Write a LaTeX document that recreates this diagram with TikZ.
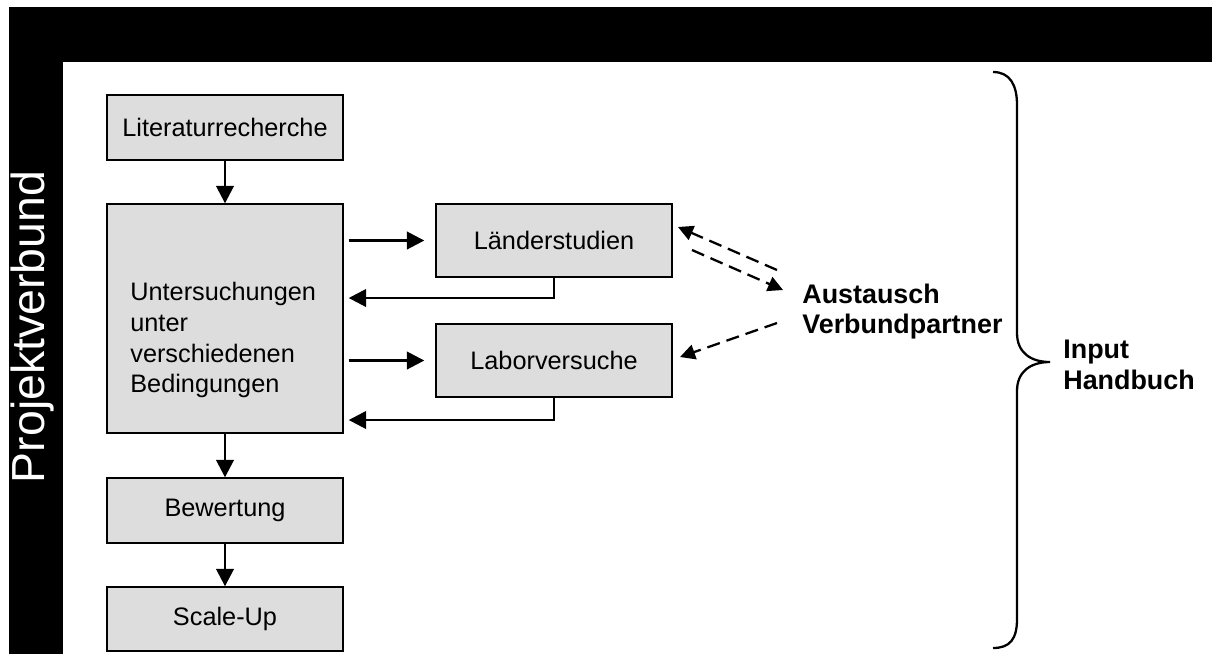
\documentclass[tikz,border=0pt]{standalone}
\usepackage{fontspec}
\setmainfont{Liberation Sans}
\usetikzlibrary{arrows.meta}
\definecolor{boxgray}{RGB}{221,221,221}

\begin{document}
\begin{tikzpicture}[x=0.02cm, y=-0.02cm,
  every node/.style={font=\fontsize{14.4}{17.6}\selectfont},
  box/.style={draw, line width=0.8pt, fill=boxgray, minimum width=4.72cm, inner sep=0pt},
  arr/.style={-{Triangle[length=0.35cm, width=0.35cm]}, line width=1.5pt},
  dsh/.style={-{Triangle[length=0.3cm, width=0.3cm]}, line width=1.3pt, dash pattern=on 7.5pt off 4pt},
  lbl/.style={font=\fontsize{15.3}{17.6}\selectfont\bfseries, align=left, inner sep=0pt, anchor=west}]
  \useasboundingbox (0,0) rectangle (1212,654);
  \fill[white] (0,0) rectangle (1212,654);
  \fill[black] (9,7) rectangle (1212,654);
  \fill[white] (63,62) rectangle (1212,654);
  \node[white, rotate=90, inner sep=0pt, font=\fontsize{26.4}{30}\selectfont] (proj) at (33,327) {Projektverbund};
  \node[box, minimum height=1.3cm] (lit) at (225,127.5) {Literaturrecherche};
  \node[box, minimum height=4.58cm] (unt) at (225,318.5) {};
  \node[align=left, inner sep=0pt, anchor=west] (untxt) at (130,340)
    {Untersuchungen\\unter\\verschiedenen\\Bedingungen};
  \node[box, minimum height=1.3cm] (bew) at (225,510.5) {Bewertung};
  \node[box, minimum height=1.28cm] (scl) at (225,619) {Scale-Up};
  \node[box, minimum height=1.46cm] (laend) at (554,240.5) {Länderstudien};
  \node[box, minimum height=1.46cm] (lab) at (554,360.5) {Laborversuche};
  \node[lbl] (aus) at (802,311.5) {Austausch\\Verbundpartner};
  \node[lbl] (inp) at (1063,364.5) {Input\\Handbuch};
  \draw[arr] (lit) -- (unt);
  \draw[arr] (unt) -- (bew);
  \draw[arr] (bew) -- (scl);
  \draw[arr, shorten <=0.1cm, shorten >=0.22cm] (unt.east |- laend.west) -- (laend.west);
  \draw[arr, shorten <=0.1cm, shorten >=0.22cm] (unt.east |- lab.west) -- (lab.west);
  \draw[arr, shorten >=0.1cm] (laend.south) |- (unt.east |- 0,298);
  \draw[arr, shorten >=0.1cm] (lab.south) |- (unt.east |- 0,420);
  \coordinate (d1a) at (777,270); \coordinate (d1b) at (678,227);
  \coordinate (d2a) at (692,250); \coordinate (d2b) at (783,290);
  \coordinate (d3a) at (777,323); \coordinate (d3b) at (680,357);
  \draw[dsh] (d1a) -- (d1b);
  \draw[dsh] (d2a) -- (d2b);
  \draw[dsh] (d3a) -- (d3b);
  \draw[line width=1.3pt] (993,72) .. controls (1010,72) and (1017,85) .. (1017,105)
    -- (1017,333) .. controls (1017,352) and (1030,362) .. (1050,362)
    .. controls (1030,362) and (1017,372) .. (1017,391)
    -- (1017,619) .. controls (1017,639) and (1010,648) .. (993,648);
\end{tikzpicture}
\end{document}
